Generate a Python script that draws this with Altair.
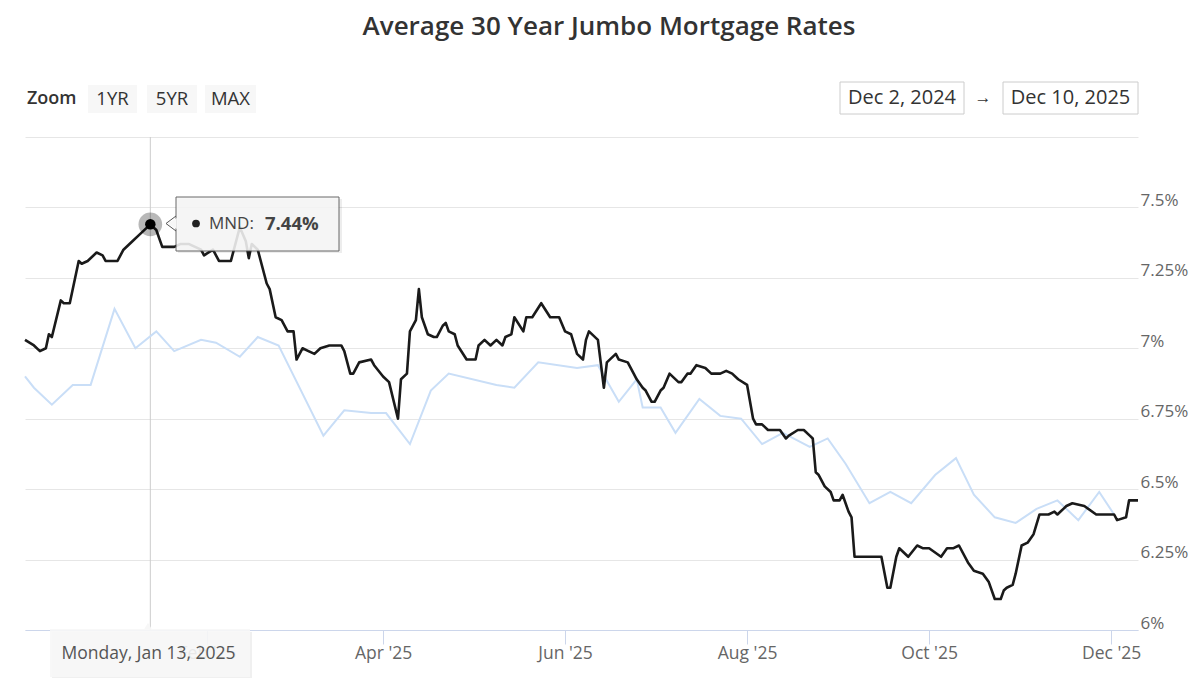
import altair as alt
import pandas as pd

FONT = "Open Sans"
START = "2024-12-02"

# MND daily jumbo rate (day offsets from Dec 2, 2024)
mnd_days = [0, 3, 5, 7, 8, 9, 12, 13, 15, 18, 19, 21, 24, 26, 27, 31, 33, 36, 38, 42,
            44, 46, 50, 52, 55, 59, 60, 63, 65, 69, 72, 74, 75, 76, 78, 81, 82, 84, 86, 88,
            90, 91, 93, 95, 97, 99, 102, 106, 107, 109, 110, 112, 116, 117, 120, 122, 125, 126, 128, 129,
            131, 132, 133, 135, 137, 138, 140, 141, 142, 144, 145, 148, 151, 152, 154, 156, 158, 160, 161, 163,
            164, 167, 168, 170, 173, 176, 179, 181, 183, 185, 187, 188, 189, 192, 194, 195, 198, 199, 202, 204,
            205, 207, 208, 210, 211, 213, 214, 216, 219, 220, 222, 223, 225, 228, 230, 233, 235, 237, 239, 242,
            244, 245, 247, 249, 253, 255, 256, 259, 261, 263, 264, 265, 266, 268, 270, 271, 273, 274, 276, 277,
            278, 287, 289, 290, 292, 293, 296, 299, 301, 303, 307, 309, 311, 313, 316, 318, 321, 323, 325, 327,
            328, 329, 331, 332, 334, 336, 338, 340, 343, 345, 346, 348, 349, 351, 355, 359, 365, 366, 369, 370,
            373]
mnd_rates = [7.03, 7.01, 6.99, 7.00, 7.05, 7.04, 7.17, 7.16, 7.16, 7.31, 7.30, 7.31, 7.34, 7.33, 7.31, 7.31, 7.35, 7.38, 7.40, 7.44,
             7.42, 7.36, 7.36, 7.37, 7.37, 7.35, 7.33, 7.35, 7.31, 7.31, 7.43, 7.38, 7.32, 7.37, 7.35, 7.23, 7.21, 7.11, 7.10, 7.06,
             7.06, 6.96, 7.00, 6.99, 6.98, 7.00, 7.01, 7.01, 6.99, 6.91, 6.91, 6.95, 6.96, 6.94, 6.90, 6.88, 6.75, 6.89, 6.91, 7.06,
             7.10, 7.21, 7.11, 7.05, 7.04, 7.04, 7.08, 7.09, 7.06, 7.05, 7.01, 6.96, 6.96, 7.01, 7.03, 7.01, 7.03, 7.01, 7.04, 7.05,
             7.11, 7.06, 7.11, 7.11, 7.16, 7.11, 7.11, 7.06, 7.05, 6.98, 6.96, 7.03, 7.06, 7.03, 6.86, 6.95, 6.98, 6.96, 6.95, 6.91,
             6.89, 6.86, 6.85, 6.81, 6.81, 6.85, 6.86, 6.91, 6.88, 6.88, 6.91, 6.91, 6.94, 6.93, 6.91, 6.91, 6.92, 6.91, 6.89, 6.87,
             6.75, 6.73, 6.73, 6.71, 6.71, 6.68, 6.69, 6.71, 6.71, 6.69, 6.68, 6.56, 6.55, 6.51, 6.49, 6.46, 6.46, 6.48, 6.42, 6.40,
             6.26, 6.26, 6.15, 6.15, 6.26, 6.29, 6.26, 6.30, 6.29, 6.29, 6.26, 6.29, 6.29, 6.30, 6.24, 6.21, 6.20, 6.17, 6.11, 6.11,
             6.14, 6.15, 6.16, 6.20, 6.30, 6.31, 6.34, 6.41, 6.41, 6.42, 6.41, 6.43, 6.44, 6.45, 6.44, 6.41, 6.41, 6.39, 6.40, 6.46,
             6.46]

# Weekly comparison series (light blue)
wk_days = [0, 3, 9, 16, 22, 30, 37, 44, 50, 59, 64, 72, 78, 85, 100, 107, 116, 121, 129, 136,
           142, 158, 164, 172, 185, 192, 199, 205, 207, 213, 218, 226, 233, 240, 247, 254, 263, 269, 275, 283,
           290, 297, 305, 312, 318, 325, 332, 339, 346, 353, 360, 365]
wk_rates = [6.90, 6.86, 6.80, 6.87, 6.87, 7.14, 7.00, 7.06, 6.99, 7.03, 7.02, 6.97, 7.04, 7.01, 6.69, 6.78, 6.77, 6.77, 6.66, 6.85,
            6.91, 6.87, 6.86, 6.95, 6.93, 6.94, 6.81, 6.89, 6.79, 6.79, 6.70, 6.82, 6.76, 6.75, 6.66, 6.70, 6.65, 6.68, 6.59, 6.45,
            6.49, 6.45, 6.55, 6.61, 6.48, 6.40, 6.38, 6.43, 6.46, 6.39, 6.49, 6.41]

y_ticks = [6, 6.25, 6.5, 6.75, 7, 7.25, 7.5, 7.75]
x_tick_months = [2, 4, 6, 8, 10, 12]
hover_day = 42


def to_dates(days):
    return [(pd.Timestamp(START) + pd.Timedelta(days=int(d))).strftime("%Y-%m-%d") for d in days]


mnd = pd.DataFrame({"date": to_dates(mnd_days), "rate": mnd_rates})
wk = pd.DataFrame({"date": to_dates(wk_days), "rate": wk_rates})
hov = mnd[[d == hover_day for d in mnd_days]].reset_index(drop=True)
hover_date = pd.Timestamp(hov["date"][0])
hover_rate = float(hov["rate"][0])

xscale = alt.Scale(type="utc",
                   domain=[alt.DateTime(year=2024, month=12, date=2, utc=True),
                           alt.DateTime(year=2025, month=12, date=10, utc=True)])
yscale = alt.Scale(domain=[6, 7.75], nice=False, zero=False)

x_axis = alt.Axis(values=[alt.DateTime(year=2025, month=m, date=1, utc=True) for m in x_tick_months],
                  labelExpr="utcFormat(datum.value, \"%b '%y\")", grid=False,
                  domainColor="#ccd6eb", tickColor="#ccd6eb", tickSize=14,
                  labelFont=FONT, labelFontSize=17.5, labelColor="#666666", labelPadding=0,
                  title=None)
y_axis = alt.Axis(values=y_ticks, orient="right", grid=True, gridColor="#e6e6e6",
                  domain=False, ticks=False, labelAlign="left", labelBaseline="bottom",
                  labelPadding=2, labelOffset=2, labelFont=FONT, labelFontSize=17, labelColor="#666666",
                  labelExpr="datum.value > 7.7 ? '' : datum.value + '%'", title=None)

X = alt.X("date:T", scale=xscale, axis=x_axis)
Y = alt.Y("rate:Q", scale=yscale, axis=y_axis)
Xn = alt.X("date:T", scale=xscale)
Yn = alt.Y("rate:Q", scale=yscale)

one = pd.DataFrame({"a": [0]})


def txt(t, x, y, size, weight="normal", color="#333333", align="center"):
    return alt.Chart(pd.DataFrame({"t": [t]})).mark_text(
        font=FONT, fontSize=size, fontWeight=weight, color=color, align=align, baseline="middle"
    ).encode(x=alt.value(x), y=alt.value(y), text="t:N")


def box(x1, x2, y1, y2, fill, stroke=None, opacity=1.0, sw=1):
    kw = dict(fill=fill, opacity=opacity)
    if stroke:
        kw.update(stroke=stroke, strokeWidth=sw)
    return alt.Chart(one).mark_rect(**kw).encode(
        x=alt.value(x1), x2=alt.value(x2), y=alt.value(y1), y2=alt.value(y2))


def seg(x1, y1, x2, y2, color, sw=1):
    return alt.Chart(one).mark_rule(color=color, strokeWidth=sw).encode(
        x=alt.value(x1), y=alt.value(y1), x2=alt.value(x2), y2=alt.value(y2))


base_axes = alt.Chart(mnd).mark_line(opacity=0).encode(x=X, y=Y)

crosshair = alt.Chart(hov).mark_rule(color="#cccccc", strokeWidth=1).encode(x=Xn)

wk_line = alt.Chart(wk).mark_line(color="#c9def7", strokeWidth=2).encode(x=Xn, y=Yn)
mnd_line = alt.Chart(mnd).mark_line(color="#1a1a1a", strokeWidth=2.6, strokeJoin="round").encode(x=Xn, y=Yn)

halo = alt.Chart(hov).mark_circle(size=560, color="#000000", opacity=0.28).encode(x=Xn, y=Yn)
dot = alt.Chart(hov).mark_circle(size=110, color="#000000", opacity=1).encode(x=Xn, y=Yn)

# tooltip callout
tip_shadow = box(153, 317, 62, 116, "#000000", opacity=0.07)
tip_box = box(151, 314, 60, 114, "#f7f7f7", stroke="#555555", opacity=0.88)
tip_arrow = alt.Chart(one).mark_point(shape="triangle-left", filled=True, size=120,
                                      color="#f7f7f7", opacity=1).encode(x=alt.value(147), y=alt.value(86.5))
tip_a1 = seg(151, 79, 141, 86.5, "#555555")
tip_a2 = seg(141, 86.5, 151, 94, "#555555")
tip_dot = alt.Chart(one).mark_circle(size=60, color="#222222", opacity=1).encode(x=alt.value(171), y=alt.value(86.5))
tip_lbl = txt("MND: ", 184, 86.5, 17, color="#444444", align="left")
tip_val = txt(f"{hover_rate:.2f}%", 240, 86.5, 18.5, weight="bold", color="#444444", align="left")

# bottom crosshair label
lab_shadow = box(27, 227, 495, 542, "#000000", opacity=0.06)
lab_box = box(25, 225, 492, 540, "#f7f7f7", opacity=0.9)
lab_arrow = alt.Chart(one).mark_point(shape="triangle-up", filled=True, size=60,
                                      color="#f7f7f7", opacity=1).encode(x=alt.value(123), y=alt.value(489))
lab_text = txt(hover_date.strftime("%A, %b %d, %Y").replace(" 0", " "), 123.5, 517, 17.5,
               weight="normal", color="#555555")

# title and range-selector UI
title = txt("Average 30 Year Jumbo Mortgage Rates", 584, -110, 26, weight=600, color="#333333")
zoom_lbl = txt("Zoom", 2, -38, 18, weight=600, color="#333333", align="left")
btns = []
for label, x1, x2 in [("1YR", 63, 112), ("5YR", 122, 172), ("MAX", 180, 231)]:
    btns.append(box(x1, x2, -52, -24, "#f7f7f7"))
    btns.append(txt(label, (x1 + x2) / 2, -38, 18.5, color="#333333"))
d1_box = box(815, 939, -55, -23, "#ffffff", stroke="#cccccc")
d1_txt = txt("Dec 2, 2024", 877, -39, 20, color="#333333")
arrow = txt("\u2192", 958, -39, 17, color="#333333")
d2_box = box(978, 1113, -55, -23, "#ffffff", stroke="#cccccc")
d2_txt = txt("Dec 10, 2025", 1045.5, -39, 20, color="#333333")

chart = alt.layer(
    base_axes, crosshair, wk_line, mnd_line, halo, dot,
    lab_shadow, lab_box, lab_arrow, lab_text,
    tip_shadow, tip_box, tip_arrow, tip_a1, tip_a2, tip_dot, tip_lbl, tip_val,
    title, zoom_lbl, *btns, d1_box, d1_txt, arrow, d2_box, d2_txt,
).properties(
    width=1113, height=493,
    autosize=alt.AutoSizeParams(type="none"),
    padding={"left": 17, "top": 129, "right": 54, "bottom": 48},
).configure(background="#ffffff").configure_view(stroke=None, strokeWidth=0)

chart.save("out.html", embed_options={"renderer": "svg", "actions": False})
